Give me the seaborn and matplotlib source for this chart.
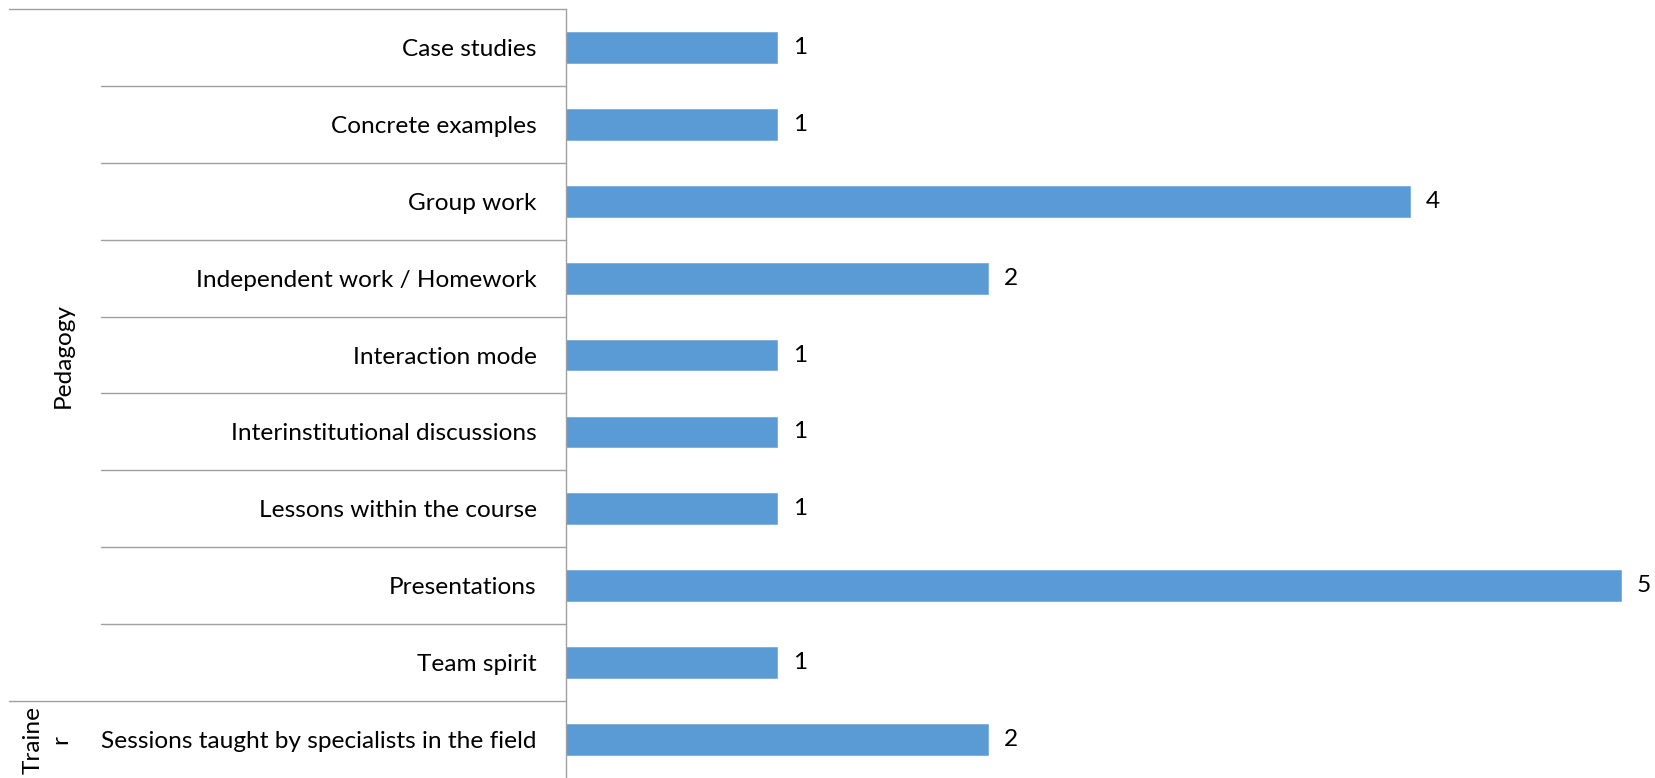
import matplotlib
matplotlib.use("Agg")
import matplotlib.pyplot as plt
import seaborn as sns
import pandas as pd

categories = [
    "Case studies",
    "Concrete examples",
    "Group work",
    "Independent work / Homework",
    "Interaction mode",
    "Interinstitutional discussions",
    "Lessons within the course",
    "Presentations",
    "Team spirit",
    "Sessions taught by specialists in the field",
]
values = [1, 1, 4, 2, 1, 1, 1, 5, 1, 2]
groups = ["Pedagogy"] * 9 + ["Trainer"]

df = pd.DataFrame({"category": categories, "value": values, "group": groups})

sns.set_theme(style="white")
plt.rcParams["font.family"] = ["Lato", "DejaVu Sans"]

W, H = 1655, 778
fig = plt.figure(figsize=(W / 100, H / 100), dpi=100)
ax_left = 566
ax = fig.add_axes([ax_left / W, 0, (W - ax_left) / W, 1 - 9 / H])

bar_color = "#5B9BD5"
sns.barplot(data=df, y="category", x="value", orient="h", color=bar_color,
            width=0.4, ax=ax, saturation=1, edgecolor="#6FA8DC", linewidth=0.5)

unit_px = 210.9
ax.set_xlim(0, (W - ax_left) / unit_px)
ax.set_ylim(len(categories) - 0.5, -0.5)

fs = 17.6
for i, v in enumerate(values):
    ax.text(v + 0.075, i, str(v), va="center", ha="left", fontsize=fs, color="black")

ax.set_xlabel("")
ax.set_ylabel("")
ax.set_xticks([])
ax.tick_params(axis="y", length=0, pad=21, labelsize=fs, labelcolor="black")
for s in ["top", "right", "bottom"]:
    ax.spines[s].set_visible(False)
ax.spines["left"].set_color("#A0A0A0")
ax.spines["left"].set_linewidth(1.0)

line_c = "#A0A0A0"
trans = ax.get_yaxis_transform()
axw = W - ax_left
def xa(px):
    return (px - ax_left) / axw

# top line and group separator
ax.plot([xa(9), 0], [-0.5, -0.5], transform=trans, color=line_c, lw=1.0, clip_on=False)
ax.plot([xa(9), 0], [8.5, 8.5], transform=trans, color=line_c, lw=1.0, clip_on=False)
# category separators within Pedagogy group
for i in range(8):
    ax.plot([xa(101), 0], [i + 0.5, i + 0.5], transform=trans, color=line_c, lw=1.0, clip_on=False)

# group labels
ax.text(xa(63), 4.0, "Pedagogy", transform=trans, rotation=90, ha="center", va="center",
        fontsize=fs, color="black", clip_on=False)
ax.text(xa(47), 9.0, "Traine\nr", transform=trans, rotation=90, ha="center", va="center",
        multialignment="center", linespacing=1.35,
        fontsize=fs, color="black", clip_on=False)

fig.savefig("out.png", dpi=100, facecolor="white")
